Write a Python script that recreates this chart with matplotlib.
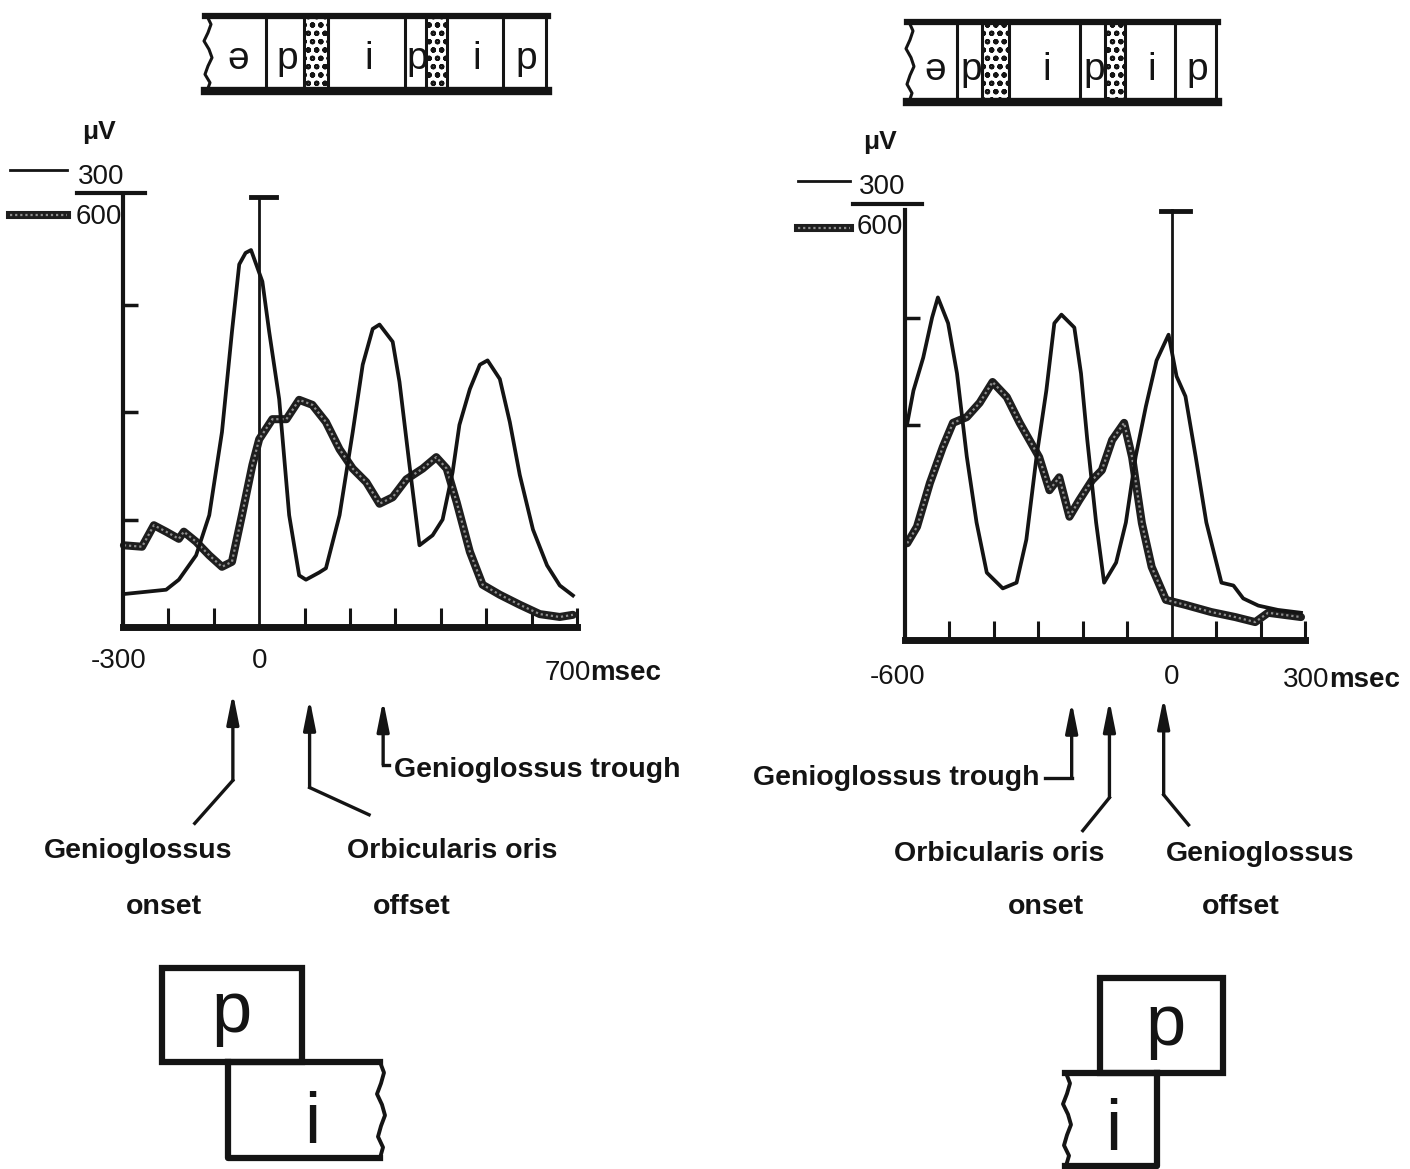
import matplotlib.pyplot as plt
from matplotlib.patches import Rectangle

plt.rcParams['font.family'] = ['Liberation Sans', 'DejaVu Sans']
plt.rcParams['hatch.linewidth'] = 1.5

INK = '#141414'
W, H = 1410, 1169

# EMG traces, /apip/ utterance (time in ms from the line-up point)
# thin trace plotted on the 300 uV scale, thick trace on the 600 uV scale
left_thin_ms = [-298, -205, -177, -139, -110, -82, -60, -44, -30, -18, 7,
                22, 44, 66, 88, 103, 132, 147, 177, 206, 228,
                250, 265, 294, 309, 331, 353, 382, 404, 426, 441,
                464, 486, 503, 530, 552, 574, 603, 634, 662, 691]
left_thin_uv = [23, 26, 33, 50, 78, 136, 206, 253, 261, 263, 241,
                206, 159, 78, 36, 33, 38, 41, 78, 136, 183,
                208, 211, 199, 171, 113, 57, 64, 75, 108, 141,
                166, 183, 186, 173, 143, 106, 68, 43, 29, 22]
left_thick_ms = [-298, -258, -232, -205, -177, -166, -139, -110, -82, -60,
                 -38, -15, 0, 29, 60, 88, 117, 147, 177, 206,
                 236, 265, 294, 324, 360, 390, 413, 435, 464, 492,
                 530, 574, 618, 662, 691]
left_thick_uv = [114, 112, 142, 133, 123, 133, 119, 100, 84, 91,
                 156, 226, 262, 290, 290, 317, 310, 286, 248, 221,
                 202, 172, 181, 206, 221, 237, 221, 174, 105, 59,
                 45, 31, 18, 14, 17]

# EMG traces, second utterance
right_thin_ms = [-595, -581, -559, -539, -526, -503, -483, -461, -439, -416,
                 -380, -349, -327, -304, -282, -264, -248, -219, -204, -190,
                 -170, -152, -125, -103, -81, -58, -34, -7, 11, 31,
                 54, 78, 112, 139, 161, 195, 239, 291]
right_thin_uv = [151, 174, 197, 225, 239, 221, 186, 128, 82, 47,
                 36, 40, 70, 128, 174, 221, 227, 218, 186, 140,
                 82, 40, 54, 82, 128, 163, 195, 213, 184, 170,
                 128, 82, 40, 38, 29, 24, 21, 19]
right_thick_ms = [-595, -573, -544, -515, -492, -461, -432, -403, -371, -342,
                  -320, -298, -275, -253, -230, -208, -179, -157, -134, -107,
                  -89, -67, -45, -13, 31, 89, 143, 188, 217, 291]
right_thick_uv = [135, 158, 219, 269, 303, 311, 331, 360, 339, 303,
                  279, 255, 209, 227, 172, 195, 223, 237, 279, 303,
                  255, 163, 102, 56, 49, 39, 32, 25, 38, 32]

left_xticks = [-200, -100, 100, 200, 300, 400, 500, 600, 700]
right_xticks = [-500, -400, -300, -200, -100, 100, 200, 300]
left_yticks = [75, 150, 225]
right_yticks = [150, 225]

# phoneme strips: cell boundaries (px), labels, dotted cells
left_strip_edges = [207, 266, 304, 328, 405, 426, 447, 503, 546]
right_strip_edges = [909, 957, 982, 1009, 1080, 1105, 1125, 1175, 1216]
strip_labels = ['ə', 'p', '', 'i', 'p', '', 'i', 'p']
strip_dotted = [False, False, True, False, False, True, False, False]

WAVE = [0, 4, 1, -3, 2, 5, 1, -2, 3, 0]

fig = plt.figure(figsize=(W / 100, H / 100), dpi=100)

ov = fig.add_axes([0, 0, 1, 1])
ov.set_xlim(0, W)
ov.set_ylim(H, 0)
ov.axis('off')


def px_axes(x0, x1, y_bottom, y_top):
    ax = fig.add_axes([x0 / W, 1 - y_bottom / H, (x1 - x0) / W, (y_bottom - y_top) / H])
    ax.patch.set_visible(False)
    return ax


def thick_trace(ax, x, y):
    ax.plot(x, y, color='#1e1e1e', lw=5.8, solid_joinstyle='round',
            solid_capstyle='round', clip_on=False)
    ax.plot(x, y, color='#8e8e8e', lw=1.6, ls=(0, (1.0, 1.3)), clip_on=False)


def wavy_vertical(ax, x, y0, y1, lw):
    n = len(WAVE)
    ys = [y0 + (y1 - y0) * i / (n - 1) for i in range(n)]
    ax.plot([x + w for w in WAVE], ys, color=INK, lw=lw, solid_joinstyle='round')


def draw_strip(ax, edges, top, bottom):
    for a, b, lab, dot in zip(edges[:-1], edges[1:], strip_labels, strip_dotted):
        if dot:
            ax.add_patch(Rectangle((a, top), b - a, bottom - top, facecolor='white',
                                   edgecolor=INK, hatch='oo', lw=0))
        elif lab:
            ax.text((a + b) / 2 + 2, bottom - 22, lab, fontsize=28, color=INK,
                    ha='center', va='baseline')
    for e in edges[1:]:
        ax.plot([e, e], [top, bottom], color=INK, lw=2.2)
    ax.plot([edges[0] - 2, edges[-1] + 2], [top, top], color=INK, lw=4.5)
    ax.plot([edges[0] - 2, edges[-1] + 2], [bottom, bottom], color=INK, lw=6)
    wavy_vertical(ax, edges[0], top, bottom, 2.2)


def chart(ax, xlim, xticks, yticks):
    ax.set_xlim(*xlim)
    ax.set_ylim(0, 300)
    for side in ['top', 'right']:
        ax.spines[side].set_visible(False)
    ax.spines['left'].set_linewidth(3)
    ax.spines['bottom'].set_linewidth(5)
    ax.spines['left'].set_color(INK)
    ax.spines['bottom'].set_color(INK)
    ax.plot(xlim, [0, 0], color='#8e8e8e', lw=1.4, ls=(0, (1, 1.5)), clip_on=False)
    ax.set_xticks(xticks)
    ax.set_yticks(yticks)
    ax.tick_params(axis='x', direction='in', length=14, width=2.2, color=INK,
                   labelbottom=False)
    ax.tick_params(axis='y', direction='in', length=11, width=2.5, color=INK,
                   labelleft=False)
    ax.plot([0, 0], [0, 300], color=INK, lw=2, clip_on=False)


def pointer(ax, x, tip_y, knee_y, tail):
    ax.plot([tail[0], x], [tail[1], knee_y], color=INK, lw=2.4, clip_on=False)
    ax.annotate('', xy=(x, tip_y), xytext=(x, knee_y), annotation_clip=False,
                arrowprops=dict(arrowstyle='-|>,head_length=0.9,head_width=0.18',
                                mutation_scale=20, color=INK, lw=2.4,
                                shrinkA=0, shrinkB=0))


label_kw = dict(fontsize=20.5, fontweight='bold', color=INK, va='center')
num_kw = dict(fontsize=20, color=INK, va='center')
msec_kw = dict(fontsize=20, fontweight='bold', color=INK, va='center', ha='left')

# ---- left panel ----
axl = px_axes(123, 577, 627, 197)
chart(axl, (-300, 700), left_xticks, left_yticks)
thick_trace(axl, left_thick_ms, [v / 2 for v in left_thick_uv])
axl.plot(left_thin_ms, left_thin_uv, color=INK, lw=2.7, clip_on=False)
axl.plot([-18, 38], [300, 300], color=INK, lw=3.5, clip_on=False)
axl.plot([-401, -252], [303, 303], color=INK, lw=3, clip_on=False)

axl.text(-309, -24, '-300', ha='center', **num_kw)
axl.text(0, -24, '0', ha='center', **num_kw)
axl.text(730, -32, '700', ha='right', **num_kw)
axl.text(730, -32, 'msec', **msec_kw)

pointer(axl, -58, -46, -107, (-142, -137))
pointer(axl, 111, -50, -112, (242, -131))
pointer(axl, 273, -51, -96, (286, -96))
axl.text(297, -100, 'Genioglossus trough', ha='left', **label_kw)
axl.text(-267, -156, 'Genioglossus', ha='center', **label_kw)
axl.text(-210, -195, 'onset', ha='center', **label_kw)
axl.text(424, -156, 'Orbicularis oris', ha='center', **label_kw)
axl.text(335, -195, 'offset', ha='center', **label_kw)

# ---- right panel ----
axr = px_axes(905, 1305, 640, 210)
chart(axr, (-600, 300), right_xticks, right_yticks)
thick_trace(axr, right_thick_ms, [v / 2 for v in right_thick_uv])
axr.plot(right_thin_ms, right_thin_uv, color=INK, lw=2.7, clip_on=False)
axr.plot([-25, 42], [299, 299], color=INK, lw=3.5, clip_on=False)
axr.plot([-717, -562], [304, 304], color=INK, lw=3, clip_on=False)

axr.text(-616, -26, '-600', ha='center', **num_kw)
axr.text(0, -26, '0', ha='center', **num_kw)
axr.text(355, -28, '300', ha='right', **num_kw)
axr.text(355, -28, 'msec', **msec_kw)

pointer(axr, -225, -43, -96, (-286, -96))
pointer(axr, -140, -42, -110, (-200, -133))
pointer(axr, -18, -40, -108, (38, -129))
axr.text(-297, -96, 'Genioglossus trough', ha='right', **label_kw)
axr.text(-387, -149, 'Orbicularis oris', ha='center', **label_kw)
axr.text(-284, -186, 'onset', ha='center', **label_kw)
axr.text(200, -149, 'Genioglossus', ha='center', **label_kw)
axr.text(155, -186, 'offset', ha='center', **label_kw)

# ---- scale keys ----
for xk, yk, x_thin, y_thin, y_thick in [(99, 0, (10, 67), 170, 215),
                                        (880, 10, (798, 850), 181, 228)]:
    ov.text(xk, 132 + yk, 'μV', fontsize=19, fontweight='bold', color=INK,
            ha='center', va='center')
    ov.text(xk + 2, 177 + yk, '300', fontsize=20, color=INK, ha='center', va='center')
    ov.text(xk, 217 + yk, '600', fontsize=20, color=INK, ha='center', va='center')
    ov.plot(x_thin, [y_thin, y_thin], color=INK, lw=2)
    ov.plot(x_thin, [y_thick, y_thick], color='#1e1e1e', lw=5.8)
    ov.plot(x_thin, [y_thick, y_thick], color='#8e8e8e', lw=1.6, ls=(0, (1.0, 1.3)))

# ---- phoneme strips ----
draw_strip(ov, left_strip_edges, 16, 91)
draw_strip(ov, right_strip_edges, 22, 102)

# ---- overlapping segment boxes ----
box_lw = 4.5
# left: p above, i below running on to the right
ov.add_patch(Rectangle((162, 968), 140, 94, fill=False, edgecolor=INK, lw=box_lw))
ov.plot([228, 380], [1062, 1062], color=INK, lw=box_lw)
ov.plot([228, 228, 380], [1062, 1158, 1158], color=INK, lw=box_lw)
wavy_vertical(ov, 380, 1062, 1158, 2.8)
ov.text(231, 1032, 'p', fontsize=52, color=INK, ha='center', va='baseline')
ov.text(312, 1143, 'i', fontsize=52, color=INK, ha='center', va='baseline')

# right: p above, i below running in from the left
ov.add_patch(Rectangle((1100, 978), 123, 95, fill=False, edgecolor=INK, lw=box_lw))
ov.plot([1065, 1157], [1073, 1073], color=INK, lw=box_lw)
ov.plot([1065, 1157, 1157], [1166, 1166, 1073], color=INK, lw=box_lw)
wavy_vertical(ov, 1066, 1073, 1166, 2.8)
ov.text(1165, 1045, 'p', fontsize=52, color=INK, ha='center', va='baseline')
ov.text(1113, 1150, 'i', fontsize=52, color=INK, ha='center', va='baseline')

fig.savefig('out.png', dpi=100)
